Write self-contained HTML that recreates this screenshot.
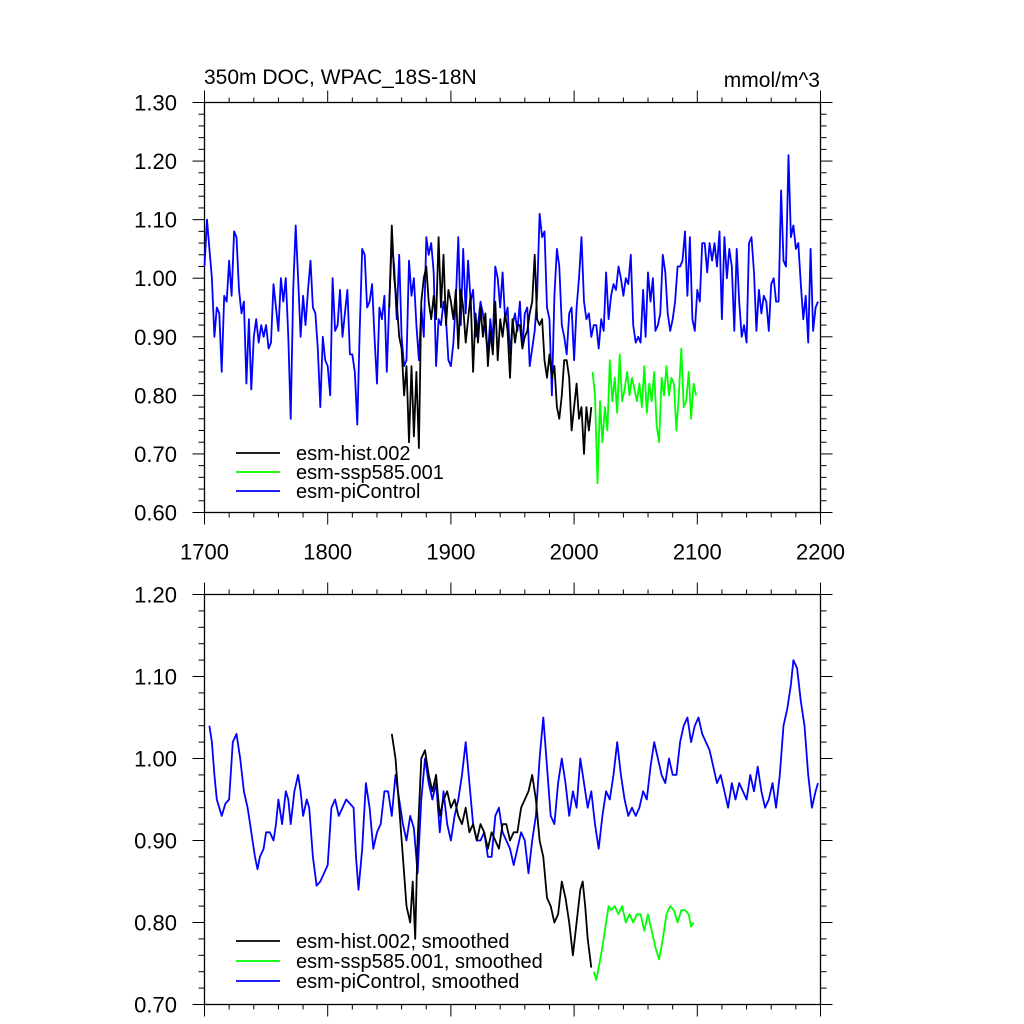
<!DOCTYPE html>
<html><head><meta charset="utf-8"><style>
html,body{margin:0;padding:0;background:#fff;}
svg{display:block;font-family:"Liberation Sans",Arial,sans-serif;}
</style></head><body>
<svg id="chart" width="1024" height="1024"></svg>
<script>
// ---------- data ----------
const piStart = 1700, piStep = 2;
const piValues = [1.02,1.10,1.05,1.00,0.90,0.95,0.94,0.84,0.97,0.96,1.03,0.97,1.08,1.07,0.98,0.94,0.96,0.82,0.93,0.81,0.90,0.93,0.89,0.92,0.90,0.92,0.88,0.89,0.99,0.95,0.91,1.00,0.96,1.00,0.90,0.76,0.98,1.09,1.00,0.90,0.97,0.92,0.98,1.03,0.95,0.94,0.88,0.78,0.90,0.86,0.85,0.80,1.00,0.91,0.92,0.98,0.90,0.94,0.98,0.87,0.87,0.84,0.75,0.91,1.05,1.04,0.95,0.96,0.99,0.90,0.82,0.95,0.93,0.97,0.84,0.96,1.06,1.02,0.93,1.04,0.90,0.85,0.86,1.03,0.97,1.00,0.92,0.86,0.95,0.90,1.07,1.04,1.06,1.01,0.85,0.93,0.92,0.96,0.93,0.86,0.85,0.89,0.96,1.07,0.92,1.05,0.94,1.03,0.96,0.98,0.90,0.92,0.96,0.94,0.91,0.87,0.93,0.89,1.02,1.00,0.95,1.01,0.93,0.95,0.87,0.92,0.94,0.91,0.96,0.88,0.94,0.95,0.85,0.88,0.91,0.97,1.11,1.07,1.08,0.95,0.93,0.80,0.97,1.05,1.02,0.92,0.90,0.87,0.94,0.95,0.86,0.95,1.00,1.07,0.96,0.93,0.94,0.90,0.92,0.92,0.88,0.93,0.91,1.01,0.93,0.97,0.99,0.98,1.02,1.00,0.97,1.00,0.99,1.04,0.92,0.89,0.90,0.89,0.98,0.90,1.01,0.96,1.00,0.91,0.92,0.94,1.04,1.01,0.94,0.91,0.93,0.96,1.02,1.02,1.03,1.08,0.97,1.07,0.93,0.91,0.98,0.96,1.06,1.06,1.01,1.06,1.03,1.06,1.02,1.08,0.93,1.07,1.00,1.05,1.02,0.91,1.05,0.96,0.90,0.92,0.89,1.06,1.07,1.01,0.91,0.98,0.94,0.97,0.96,0.91,0.99,1.00,0.96,0.96,1.15,1.03,1.02,1.21,1.07,1.09,1.05,1.06,0.99,0.93,0.97,0.89,1.05,0.91,0.95,0.96];
const histStart = 1850, histStep = 2;
const histValues = [0.95,1.09,1.00,0.96,0.90,0.88,0.80,0.85,0.72,0.85,0.73,0.84,0.71,0.96,1.00,1.02,0.96,0.93,0.97,0.93,1.07,0.95,1.04,0.92,0.98,0.96,0.93,0.98,0.88,0.98,0.95,0.89,0.93,0.97,0.84,0.94,0.89,0.95,0.90,0.94,0.85,0.91,0.87,0.96,0.86,0.93,0.90,0.94,0.91,0.83,0.93,0.89,0.92,0.92,0.88,0.90,0.91,0.94,0.96,1.04,0.93,0.92,0.93,0.86,0.83,0.87,0.83,0.85,0.78,0.76,0.80,0.86,0.86,0.83,0.74,0.78,0.82,0.76,0.78,0.70,0.78,0.74,0.78];
const sspStart = 2015, sspStep = 2;
const sspValues = [0.84,0.80,0.65,0.79,0.72,0.78,0.74,0.86,0.79,0.83,0.77,0.87,0.79,0.81,0.84,0.80,0.83,0.81,0.79,0.82,0.78,0.85,0.77,0.82,0.79,0.84,0.75,0.72,0.83,0.80,0.85,0.80,0.83,0.82,0.74,0.80,0.88,0.78,0.79,0.84,0.76,0.82,0.80];

const piSmYears = [1704,1706,1708,1710,1712,1714,1717,1720,1723,1726,1729,1732,1735,1737,1739,1741,1743,1745,1748,1750,1753,1756,1758,1760,1763,1766,1768,1770,1773,1776,1778,1780,1783,1785,1788,1791,1794,1797,1800,1803,1806,1809,1812,1815,1818,1821,1823,1825,1828,1831,1834,1837,1840,1843,1846,1849,1852,1855,1858,1861,1864,1867,1870,1873,1876,1879,1882,1885,1888,1891,1894,1897,1900,1903,1906,1909,1912,1915,1918,1921,1924,1927,1930,1933,1936,1939,1942,1945,1948,1951,1954,1957,1960,1963,1966,1969,1972,1975,1978,1981,1984,1987,1990,1993,1996,1999,2002,2005,2008,2011,2014,2017,2020,2023,2026,2029,2032,2035,2038,2041,2044,2047,2050,2053,2056,2059,2062,2065,2068,2071,2074,2077,2080,2083,2086,2089,2092,2095,2098,2101,2104,2107,2110,2113,2116,2119,2122,2125,2128,2131,2134,2137,2140,2143,2146,2149,2152,2155,2158,2161,2164,2167,2170,2173,2176,2178,2181,2184,2187,2190,2193,2196,2198];
const piSmValues = [1.04,1.02,0.98,0.95,0.94,0.93,0.945,0.95,1.02,1.03,1.00,0.96,0.94,0.92,0.90,0.88,0.865,0.88,0.89,0.91,0.91,0.90,0.92,0.95,0.92,0.96,0.95,0.92,0.96,0.98,0.96,0.93,0.95,0.94,0.88,0.845,0.85,0.86,0.87,0.94,0.95,0.93,0.94,0.95,0.945,0.94,0.88,0.84,0.89,0.97,0.94,0.89,0.91,0.92,0.96,0.96,0.93,0.98,0.95,0.92,0.90,0.93,0.915,0.86,0.95,1.00,0.97,0.95,0.97,0.91,0.96,0.92,0.90,0.93,0.95,0.98,1.02,0.97,0.92,0.90,0.90,0.91,0.88,0.88,0.93,0.94,0.91,0.90,0.89,0.87,0.89,0.91,0.90,0.86,0.90,0.93,1.00,1.05,0.99,0.93,0.92,0.97,1.00,0.97,0.93,0.96,0.94,1.00,0.97,0.94,0.96,0.92,0.89,0.93,0.96,0.95,0.98,1.02,0.98,0.95,0.93,0.94,0.93,0.94,0.96,0.95,0.99,1.02,1.00,0.98,0.97,1.00,0.98,0.98,1.02,1.04,1.05,1.02,1.04,1.05,1.03,1.02,1.01,0.99,0.97,0.98,0.96,0.94,0.97,0.95,0.97,0.96,0.95,0.98,0.96,0.99,0.96,0.94,0.95,0.97,0.94,0.98,1.04,1.06,1.09,1.12,1.11,1.07,1.04,0.98,0.94,0.96,0.97];
const histSmYears = [1852,1855,1858,1861,1864,1867,1869,1871,1873,1876,1879,1882,1885,1888,1891,1894,1897,1900,1903,1906,1909,1912,1915,1918,1921,1924,1927,1930,1933,1936,1939,1942,1945,1948,1951,1954,1957,1960,1963,1966,1969,1972,1975,1978,1981,1984,1987,1990,1993,1996,1999,2002,2005,2007,2009,2011,2014];
const histSmValues = [1.03,1.00,0.94,0.88,0.82,0.80,0.85,0.78,0.90,1.00,1.01,0.98,0.96,0.98,0.93,0.95,0.96,0.94,0.95,0.93,0.92,0.94,0.91,0.92,0.90,0.92,0.91,0.89,0.91,0.90,0.89,0.92,0.92,0.90,0.91,0.91,0.94,0.95,0.96,0.98,0.95,0.90,0.88,0.83,0.82,0.80,0.81,0.85,0.83,0.80,0.76,0.80,0.84,0.85,0.82,0.78,0.745];
const sspSmYears = [2016,2018,2020,2023,2026,2028,2030,2033,2036,2039,2042,2045,2048,2051,2054,2057,2060,2063,2066,2069,2072,2075,2078,2081,2084,2087,2090,2093,2095,2097];
const sspSmValues = [0.74,0.73,0.745,0.77,0.80,0.82,0.815,0.82,0.81,0.82,0.80,0.81,0.80,0.81,0.81,0.79,0.81,0.79,0.77,0.755,0.78,0.81,0.82,0.815,0.80,0.815,0.815,0.81,0.795,0.80];

const xTicks = [1700,1800,1900,2000,2100,2200];
const yTicksTop = [0.60,0.70,0.80,0.90,1.00,1.10,1.20,1.30];
const yTicksBot = [0.70,0.80,0.90,1.00,1.10,1.20];
const legendTop = ["esm-hist.002","esm-ssp585.001","esm-piControl"];
const legendBot = ["esm-hist.002, smoothed","esm-ssp585.001, smoothed","esm-piControl, smoothed"];
const colors = ["#000000","#00ff00","#0000ff"];

// ---------- drawing ----------
const NS = "http://www.w3.org/2000/svg";
const svg = document.getElementById("chart");
function el(tag, attrs, parent) {
  const e = document.createElementNS(NS, tag);
  for (const k in attrs) e.setAttribute(k, attrs[k]);
  (parent || svg).appendChild(e);
  return e;
}
const L = 204.5, R = 820.5;
const xScale = y => L + (y - 1700) / 500 * (R - L);

function panel(name, top, bottom, ymin, ymax, yTicks, showX) {
  const g = el("g", {});
  
  
  const ys = v => bottom - (v - ymin) / (ymax - ymin) * (bottom - top);
  const frame = el("rect", {x: L, y: top, width: R - L, height: bottom - top, fill: "none", stroke: "#000", "stroke-width": 1.3}, g);
  
  
  for (let yr = 1700; yr <= 2200; yr += 20) {
    const major = yr % 100 === 0;
    const len = major ? 12 : 5;
    const x = xScale(yr);
    el("line", {x1: x, x2: x, y1: bottom, y2: bottom + len, stroke: "#000", "stroke-width": 1}, g);
    el("line", {x1: x, x2: x, y1: top, y2: top - len, stroke: "#000", "stroke-width": 1}, g);
  }
  const nMinor = Math.round((ymax - ymin) / 0.02);
  for (let i = 0; i <= nMinor; i++) {
    const v = ymin + i * 0.02;
    const major = i % 5 === 0;
    const len = major ? 12 : 6;
    const y = ys(v);
    el("line", {x1: L, x2: L - len, y1: y, y2: y, stroke: "#000", "stroke-width": 1}, g);
    el("line", {x1: R, x2: R + len, y1: y, y2: y, stroke: "#000", "stroke-width": 1}, g);
  }
  yTicks.forEach(v => {
    const t = el("text", {x: 177, y: ys(v) + 8, "text-anchor": "end", "font-size": 22}, g);
    t.textContent = v.toFixed(2);
    
    
  });
  if (showX) {
    xTicks.forEach(yr => {
      const t = el("text", {x: xScale(yr), y: bottom + 47, "text-anchor": "middle", "font-size": 22}, g);
      t.textContent = yr;
      
      
    });
  }
  return ys;
}

function series(ys, years, values, color, name) {
  const pts = values.map((v, i) => xScale(years[i]).toFixed(1) + "," + ys(v).toFixed(1)).join(" ");
  const p = el("polyline", {points: pts, fill: "none", stroke: color, "stroke-width": 1.8, "stroke-linejoin": "round"});
  
  
}
const regYears = (start, step, n) => Array.from({length: n}, (_, i) => start + i * step);

function legend(labels, y0, dy) {
  labels.forEach((lab, i) => {
    const y = y0 + i * dy;
    const ln = el("line", {x1: 236, x2: 280, y1: y, y2: y, stroke: colors[i], "stroke-width": 1.8});
    
    
    const t = el("text", {x: 296, y: y + 7, "font-size": 20});
    t.textContent = lab;
    
    
  });
}

const ysTop = panel("top-panel", 102.5, 512.5, 0.6, 1.3, yTicksTop, true);
series(ysTop, regYears(piStart, piStep, piValues.length), piValues, colors[2], "picontrol-line");
series(ysTop, regYears(histStart, histStep, histValues.length), histValues, colors[0], "hist-line");
series(ysTop, regYears(sspStart, sspStep, sspValues.length), sspValues, colors[1], "ssp585-line");
legend(legendTop, 453, 19);

const ysBot = panel("bottom-panel", 594.5, 1004.5, 0.7, 1.2, yTicksBot, false);
series(ysBot, piSmYears, piSmValues, colors[2], "picontrol-smoothed-line");
series(ysBot, histSmYears, histSmValues, colors[0], "hist-smoothed-line");
series(ysBot, sspSmYears, sspSmValues, colors[1], "ssp585-smoothed-line");
legend(legendBot, 941, 20);

const t1 = el("text", {x: 204, y: 84, "font-size": 21});
t1.textContent = "350m DOC, WPAC_18S-18N";


const t2 = el("text", {x: 820, y: 87, "font-size": 21, "text-anchor": "end"});
t2.textContent = "mmol/m^3";


</script>
</body></html>
